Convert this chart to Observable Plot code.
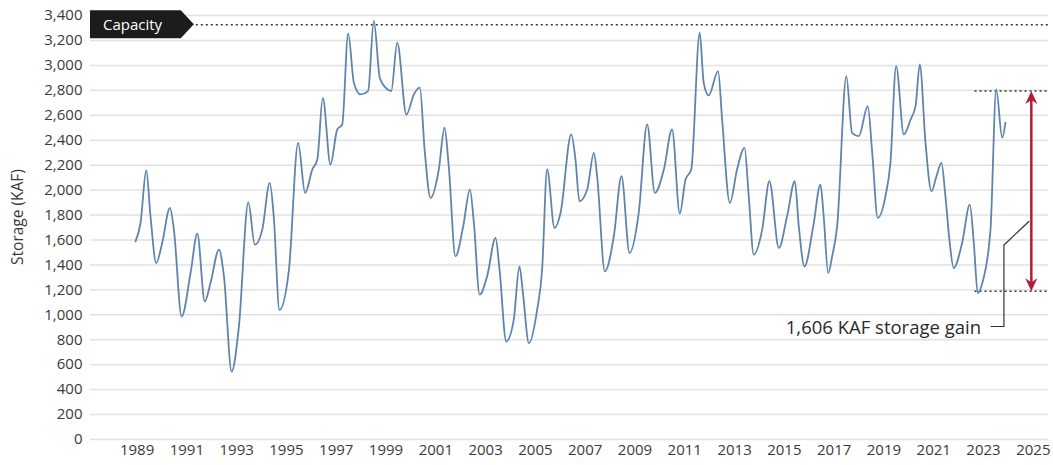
<!DOCTYPE html>
<html><head><meta charset="utf-8">
<script src="https://cdn.jsdelivr.net/npm/d3@7"></script>
<script src="https://cdn.jsdelivr.net/npm/@observablehq/plot@0.6"></script>
<style>
body{margin:0;background:#fff;}
#chart{width:1053px;height:465px;}
</style></head><body><div id="chart"></div>
<script>
const years = [1988.94,1989.14,1989.37,1989.54,1989.77,1990.01,1990.32,1990.48,1990.79,1991.15,1991.42,1991.72,1991.95,1992.29,1992.49,1992.80,1993.09,1993.47,1993.73,1994.03,1994.33,1994.49,1994.72,1995.10,1995.47,1995.75,1996.04,1996.24,1996.46,1996.77,1997.04,1997.24,1997.48,1997.71,1997.98,1998.28,1998.51,1998.75,1998.98,1999.21,1999.45,1999.82,2000.12,2000.36,2000.55,2000.79,2001.12,2001.35,2001.52,2001.79,2002.10,2002.37,2002.53,2002.76,2003.06,2003.40,2003.56,2003.83,2004.13,2004.36,2004.50,2004.74,2005.07,2005.27,2005.47,2005.77,2006.01,2006.44,2006.61,2006.77,2007.08,2007.35,2007.48,2007.79,2008.15,2008.46,2008.78,2009.15,2009.49,2009.80,2010.16,2010.49,2010.80,2011.03,2011.26,2011.60,2011.76,2011.96,2012.34,2012.50,2012.81,2013.10,2013.40,2013.57,2013.77,2014.11,2014.40,2014.78,2015.11,2015.42,2015.58,2015.81,2016.16,2016.45,2016.58,2016.76,2016.92,2017.12,2017.49,2017.72,2017.99,2018.35,2018.53,2018.75,2019.06,2019.26,2019.49,2019.80,2020.07,2020.27,2020.44,2020.67,2020.91,2021.11,2021.31,2021.47,2021.63,2021.80,2022.14,2022.45,2022.61,2022.77,2022.95,2023.28,2023.51,2023.75,2023.88];
const storage = [1589,1736,2159,1790,1415,1576,1857,1683,986,1335,1650,1107,1254,1522,1308,545,906,1902,1562,1683,2058,1790,1040,1361,2379,1977,2165,2245,2740,2205,2486,2526,3257,2861,2767,2794,3356,2901,2821,2794,3182,2606,2767,2821,2325,1937,2165,2500,2191,1468,1709,2004,1736,1161,1308,1616,1361,786,960,1388,1174,773,1040,1361,2165,1696,1817,2446,2245,1910,2004,2299,2111,1348,1629,2111,1496,1817,2526,1977,2165,2486,1811,2084,2165,3262,2861,2759,2954,2566,1897,2165,2339,1950,1482,1683,2071,1536,1790,2071,1709,1388,1709,2044,1790,1335,1468,1709,2914,2459,2432,2673,2299,1777,1950,2218,2994,2446,2566,2673,3008,2379,1990,2111,2218,1950,1602,1375,1576,1884,1576,1174,1254,1683,2807,2419,2540];

const yearTicks = d3.range(1989, 2026, 2);
const storageTicks = d3.range(0, 3401, 200);
const xDomain = [1987.13, 2025.61];

const capacity = 3325;
const capacityLabel = "Capacity";
const capacityLineStart = 1991.38;
const yLabel = "Storage (KAF)";

const gainTop = 2795;
const gainBottom = 1189;
const gainLineStart = 2022.66;
const gainArrowX = 2024.92;
const gainLabel = "1,606 KAF storage gain";
const gainLabelX = 2022.9;
const gainLabelY = 896;
const leaderX = [2023.3, 2023.82, 2023.82, 2024.82];
const leaderY = [906, 906, 1560, 1748];

const lineColor = "#5f84ad";
const red = "#b01e36";
const ink = "#333333";

const data = years.map((t, i) => ({t, v: storage[i]}));
const leader = leaderX.map((x, i) => ({x, y: leaderY[i]}));

const headUp = {draw(ctx){ ctx.moveTo(0,0); ctx.lineTo(6,13); ctx.lineTo(0,9); ctx.lineTo(-6,13); ctx.closePath(); }};
const headDown = {draw(ctx){ ctx.moveTo(0,0); ctx.lineTo(6,-13); ctx.lineTo(0,-9); ctx.lineTo(-6,-13); ctx.closePath(); }};

const plot = Plot.plot({
  width: 1053,
  height: 465,
  marginLeft: 90,
  marginRight: 5,
  marginTop: 15,
  marginBottom: 26,
  style: {fontFamily: "'Open Sans', sans-serif", fontSize: "15px", color: ink, background: "#fff"},
  x: {domain: xDomain, label: null},
  y: {domain: [0, 3400], label: null},
  marks: [
    Plot.gridY(storageTicks, {stroke: "#e2e2e2", strokeOpacity: 1, strokeWidth: 1.5}),
    Plot.axisY(storageTicks, {tickFormat: d3.format(","), tickSize: 0, tickPadding: 8, label: null, fill: "#3a3a3a"}),
    Plot.axisX(yearTicks, {tickFormat: "d", tickSize: 0, tickPadding: 5, label: null, fill: "#3a3a3a"}),
    Plot.ruleY([capacity], {x1: capacityLineStart, x2: xDomain[1], stroke: ink, strokeWidth: 1.5, strokeDasharray: "2,3"}),
    Plot.ruleY([gainTop, gainBottom], {x1: gainLineStart, x2: xDomain[1], stroke: ink, strokeWidth: 1.5, strokeDasharray: "2,3"}),
    Plot.line(data, {x: "t", y: "v", stroke: lineColor, strokeWidth: 1.8, curve: "monotone-x"}),
    Plot.ruleX([gainArrowX], {y1: gainBottom + 60, y2: gainTop - 60, stroke: red, strokeWidth: 2.5}),
    Plot.dot([{x: gainArrowX, y: gainTop}], {x: "x", y: "y", symbol: headUp, r: 5, fill: red, stroke: null}),
    Plot.dot([{x: gainArrowX, y: gainBottom}], {x: "x", y: "y", symbol: headDown, r: 5, fill: red, stroke: null}),
    Plot.line(leader, {x: "x", y: "y", stroke: ink, strokeWidth: 1.2}),
    Plot.text([gainLabel], {x: gainLabelX, y: gainLabelY, text: d => d, textAnchor: "end", fontSize: 18.5, fill: "#2a2a2a"})
  ]
});
document.getElementById("chart").appendChild(plot);

// Capacity tag and y-axis title, positioned through the plot's scales
const ys = plot.scale("y");
const xs = plot.scale("x");
const svg = d3.select(plot);
const cy = ys.apply(capacity);
const left = xs.apply(xDomain[0]);
const tip = xs.apply(capacityLineStart) - 2;
svg.append("path")
  .attr("d", `M${left},${cy-14}L${tip-13},${cy-14}L${tip},${cy}L${tip-13},${cy+14}L${left},${cy+14}Z`)
  .attr("fill", "#1c1c1c");
svg.append("text")
  .attr("x", left + 13).attr("y", cy).attr("dy", "0.35em")
  .attr("text-anchor", "start")
  .attr("fill", "#fff").attr("font-size", 15)
  .text(capacityLabel);
svg.append("text")
  .attr("transform", `translate(18,${(ys.apply(0)+ys.apply(3400))/2 - 10}) rotate(-90)`)
  .attr("text-anchor", "middle").attr("dy", "0.35em")
  .attr("fill", "#3a3a3a").attr("font-size", 15.5)
  .text(yLabel);
</script></body></html>
